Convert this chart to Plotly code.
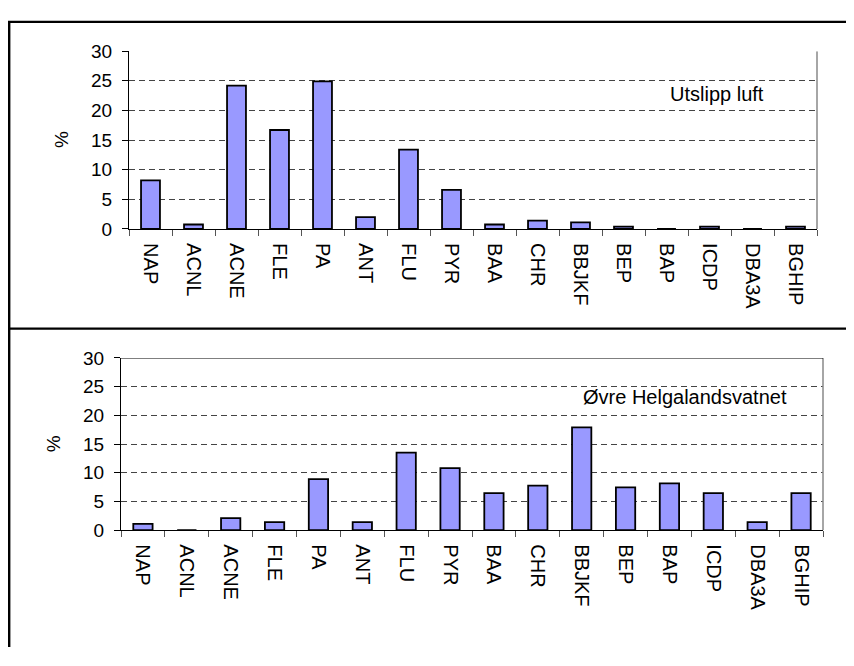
import plotly.graph_objects as go

# PAH profile, % of sum
compounds = ["NAP", "ACNL", "ACNE", "FLE", "PA", "ANT", "FLU", "PYR",
             "BAA", "CHR", "BBJKF", "BEP", "BAP", "ICDP", "DBA3A", "BGHIP"]
utslipp_luft = [8.2, 0.75, 24.2, 16.7, 24.9, 2.0, 13.4, 6.6,
                0.75, 1.4, 1.1, 0.4, 0.0, 0.4, 0.0, 0.4]
ovre_helgaland = [1.1, 0.0, 2.1, 1.4, 8.9, 1.4, 13.5, 10.8,
                  6.45, 7.75, 17.9, 7.45, 8.15, 6.45, 1.4, 6.45]
panel_labels = ["Utslipp luft", "Øvre Helgalandsvatnet"]
y_ticks = [0, 5, 10, 15, 20, 25, 30]

# page has an 8px body margin, so the figure is a bit smaller than the window
OFF = 8
W, H = 838, 650
FONT = "Liberation Sans, Arial, sans-serif"
BAR_COLOR = "#9999FF"


def px(x):
    # window pixel -> paper x
    return (x - OFF) / W


def py(y):
    # window pixel -> paper y
    return 1 - (y - OFF) / H


fig = go.Figure()

for i, (vals, name) in enumerate(zip([utslipp_luft, ovre_helgaland], panel_labels)):
    suffix = "" if i == 0 else "2"
    fig.add_trace(go.Bar(
        x=compounds, y=vals, width=0.44, name=name, showlegend=False,
        marker=dict(color=BAR_COLOR, line=dict(color="black", width=1.8)),
        xaxis="x" + suffix, yaxis="y" + suffix,
    ))

x_kw = dict(type="category", tickson="boundaries", ticks="outside", ticklen=6,
            tickcolor="#555", tickwidth=1.2, tickangle=90, showgrid=False,
            showline=True, linecolor="black", linewidth=1.3,
            ticklabelstandoff=9, tickfont=dict(size=20, color="black"))
y_kw = dict(range=[0, 30], tickvals=y_ticks, ticks="outside", ticklen=6,
            tickcolor="black", tickwidth=1.2, showline=True, linecolor="black",
            linewidth=1.3, showgrid=True, gridcolor="#444", gridwidth=1.4,
            griddash="6px,4px", zeroline=False, ticklabelstandoff=6,
            tickfont=dict(size=19, color="black"))

fig.update_layout(
    width=W, height=H, margin=dict(l=0, r=0, t=0, b=0),
    paper_bgcolor="white", plot_bgcolor="white",
    font=dict(family=FONT, color="black"),
    xaxis=dict(domain=[px(129), px(817)], anchor="y", **x_kw),
    yaxis=dict(domain=[py(226), py(42.3)], anchor="x", **y_kw),
    xaxis2=dict(domain=[px(121), px(823)], anchor="y2", **x_kw),
    yaxis2=dict(domain=[py(537.3), py(359.3)], anchor="x2", **y_kw),
)

# "%" axis titles and panel labels
note = dict(xref="paper", yref="paper", showarrow=False,
            xanchor="center", yanchor="middle", font=dict(size=19))
fig.add_annotation(x=px(62), y=py(134), text="%", textangle=-90, **note)
fig.add_annotation(x=px(53.5), y=py(448), text="%", textangle=-90, **note)
note["font"] = dict(size=20)
fig.add_annotation(x=px(717), y=py(87), text=panel_labels[0], **note)
fig.add_annotation(x=px(685), y=py(400), text=panel_labels[1], **note)

# plot area borders
fig.add_shape(type="line", xref="x domain", yref="y", x0=1, x1=1, y0=0, y1=30,
              line=dict(color="#888", width=1.5))
fig.add_shape(type="line", xref="x2 domain", yref="y2", x0=1, x1=1, y0=0, y1=30,
              line=dict(color="#888", width=1.5))
fig.add_shape(type="line", xref="x2 domain", yref="y2", x0=0, x1=1, y0=30, y1=30,
              line=dict(color="black", width=1.3))

# outer frame of the two panels
frame = dict(color="black", width=2.4)
fig.add_shape(type="line", xref="paper", yref="paper", x0=px(8), x1=1,
              y0=py(12), y1=py(12), line=frame)
fig.add_shape(type="line", xref="paper", yref="paper", x0=px(8), x1=1,
              y0=py(329), y1=py(329), line=frame)
fig.add_shape(type="line", xref="paper", yref="paper", x0=px(9.2), x1=px(9.2),
              y0=0, y1=py(12), line=frame)

fig.write_html("out.html")
